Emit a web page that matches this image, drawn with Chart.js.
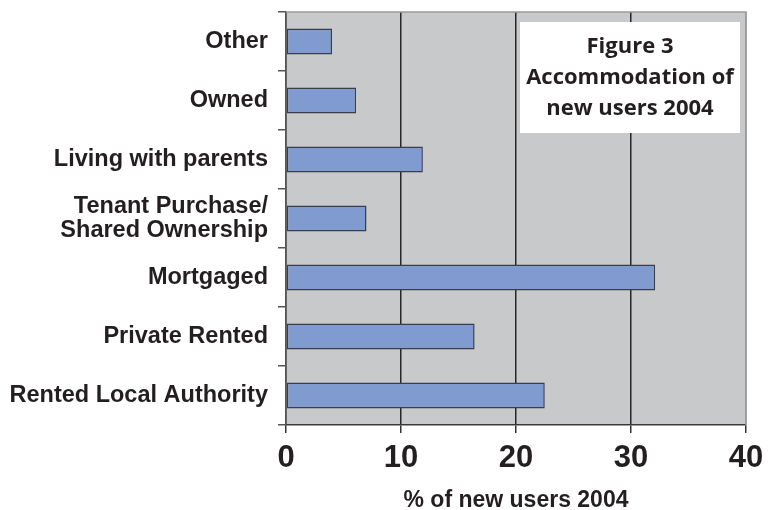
<!DOCTYPE html>
<html>
<head>
<meta charset="utf-8">
<script src="https://cdn.jsdelivr.net/npm/chart.js@4/dist/chart.umd.min.js"></script>
<style>
  html, body { margin: 0; padding: 0; background: #fff; }
  #wrap { width: 774px; height: 510px; }
</style>
</head>
<body>
<div id="wrap"><canvas id="grafica"></canvas></div>
<script>
// categorias, de arriba a abajo
const categorias = ['Other', 'Owned', 'Living with parents', ['Tenant Purchase/', 'Shared Ownership'],
    'Mortgaged', 'Private Rented', 'Rented Local Authority'];
const porcentajes = [4.0, 6.1, 11.9, 7.0, 32.1, 16.4, 22.5];
const ticksX = [0, 10, 20, 30, 40];
const tituloX = '% of new users 2004';
const cuadroTitulo = ['Figure 3', 'Accommodation of', 'new users 2004'];

const colorTexto = '#231f20';

// fondo gris del area de datos y marco
const fondoPlot = {
    id: 'fondoPlot',
    beforeDraw(chart) {
        const { ctx, chartArea: a } = chart;
        ctx.save();
        ctx.fillStyle = '#c8c9cb';
        ctx.fillRect(a.left, a.top, a.right - a.left, a.bottom - a.top);
        ctx.restore();
    },
    afterDatasetsDraw(chart) {
        const { ctx, chartArea: a } = chart;
        ctx.save();
        ctx.strokeStyle = '#9a9a9a';
        ctx.lineWidth = 1.5;
        ctx.beginPath();
        ctx.moveTo(a.left, a.top);
        ctx.lineTo(a.right, a.top);
        ctx.lineTo(a.right, a.bottom);
        ctx.stroke();
        ctx.restore();
    }
};

// cuadro blanco con el titulo dentro del grafico
const cuadro = {
    id: 'cuadro',
    afterDraw(chart) {
        const { ctx, chartArea: a } = chart;
        const x = a.right - 226, y = a.top + 10, w = 220, h = 111;
        ctx.save();
        ctx.fillStyle = '#ffffff';
        ctx.fillRect(x, y, w, h);
        ctx.fillStyle = colorTexto;
        ctx.font = 'bold 22px "Open Sans"';
        ctx.textAlign = 'center';
        ctx.textBaseline = 'alphabetic';
        cuadroTitulo.forEach((linea, i) => {
            ctx.fillText(linea, x + w / 2, y + 31 + i * 31);
        });
        ctx.restore();
    }
};

function main() {
    const ctx = document.getElementById('grafica').getContext('2d');

    const config = {
        type: 'bar',
        data: {
            labels: categorias,
            datasets: [{
                data: porcentajes,
                backgroundColor: 'rgb(128, 155, 207)',
                borderColor: '#3b3d4a',
                borderWidth: 1.5,
                borderSkipped: false,
                barPercentage: 0.44,
                categoryPercentage: 1
            }]
        },
        options: {
            indexAxis: 'y',
            responsive: false,
            animation: false,
            layout: { padding: { top: 12, right: 28, left: 0, bottom: 0 } },
            plugins: {
                legend: { display: false },
                tooltip: { enabled: false }
            },
            scales: {
                x: {
                    min: 0,
                    max: 40,
                    afterFit(scale) {
                        scale.height = 85;
                        scale.paddingLeft = 0;
                        scale.paddingRight = 0;
                    },
                    afterBuildTicks(scale) { scale.ticks = ticksX.map(v => ({ value: v })); },
                    border: { color: '#3a3a3a', width: 1.5 },
                    grid: {
                        color: c => (c.tick && c.tick.value === 40) ? '#9a9a9a' : '#262626',
                        lineWidth: 1.5,
                        tickColor: '#333',
                        tickLength: 8
                    },
                    ticks: {
                        color: colorTexto,
                        padding: 7,
                        font: { family: '"Liberation Sans", Arial', size: 31, weight: 'bold' }
                    },
                    title: {
                        display: true,
                        text: tituloX,
                        color: colorTexto,
                        padding: 0,
                        font: { family: '"Liberation Sans", Arial', size: 23, weight: 'bold', lineHeight: 0.85 }
                    }
                },
                y: {
                    afterFit(scale) {
                        scale.width = 286;
                        scale.paddingTop = 0;
                        scale.paddingBottom = 0;
                    },
                    border: { color: '#555', width: 1.5 },
                    grid: {
                        offset: true,
                        drawOnChartArea: false,
                        color: '#555',
                        lineWidth: 1.5,
                        tickLength: 8
                    },
                    ticks: {
                        color: colorTexto,
                        padding: 10,
                        font: { family: '"Liberation Sans", Arial', size: 23.5, weight: 'bold', lineHeight: 1.02 }
                    }
                }
            }
        },
        plugins: [fondoPlot, cuadro]
    };

    const canvas = document.getElementById('grafica');
    canvas.width = 774;
    canvas.height = 510;
    new Chart(ctx, config);
}

document.addEventListener('DOMContentLoaded', function() {
    main();
});
</script>
</body>
</html>
